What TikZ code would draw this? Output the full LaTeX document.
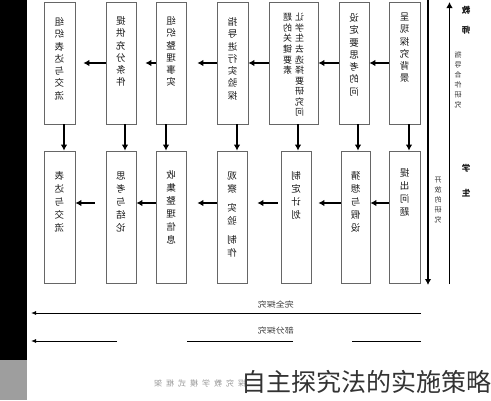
\documentclass[tikz,border=0pt]{standalone}
\usepackage{fontspec}
\newfontfamily\cjk{Noto Sans CJK SC}
\usetikzlibrary{arrows.meta}
\newcommand\vtxt[1]{\reflectbox{\begin{tabular}{@{}c@{}}#1\end{tabular}}}
\tikzset{
  box/.style={draw=black!60, line width=0.7pt, inner sep=0pt, fill=white},
  txt/.style={anchor=north, inner sep=0pt, text=black!90, font=\cjk\fontsize{9.5}{12.3}\selectfont},
  txtb/.style={anchor=north, inner sep=0pt, text=black!90, font=\cjk\fontsize{9.5}{13}\selectfont},
  arr/.style={line width=1.6pt, -{Latex[length=6pt,width=6.5pt]}},
  thinarr/.style={line width=0.9pt, -{Latex[length=5pt,width=4pt]}},
  side/.style={inner sep=0pt, text=black!90, font=\cjk\bfseries\fontsize{8.5}{11}\selectfont},
  small/.style={inner sep=0pt, text=black!80, font=\cjk\fontsize{7}{10}\selectfont},
  lab/.style={inner sep=0pt, text=black!80, font=\cjk\fontsize{9}{10}\selectfont, yscale=0.85},
}
\begin{document}
\begin{tikzpicture}[x=1pt,y=-1pt]
\useasboundingbox (0,0) rectangle (491,400);
\fill[white] (0,0) rectangle (491,400);
% left black bar and gray block
\fill[black] (0,0) rectangle (27,360);
\fill[black!38] (0,360) rectangle (27,400);

% top row boxes
\node[box, minimum width=31pt, minimum height=122pt] (t1) at (59.5,63) {};
\node[box, minimum width=30pt, minimum height=122pt] (t2) at (121,63) {};
\node[box, minimum width=30pt, minimum height=122pt] (t3) at (171,63) {};
\node[box, minimum width=31pt, minimum height=122pt] (t4) at (232.5,63) {};
\node[box, minimum width=49pt, minimum height=122pt] (t5) at (293.5,63) {};
\node[box, minimum width=30pt, minimum height=122pt] (t6) at (354,63) {};
\node[box, minimum width=31pt, minimum height=122pt] (t7) at (404.5,63) {};
% bottom row boxes
\node[box, minimum width=31pt, minimum height=132pt] (b1) at (59.5,217) {};
\node[box, minimum width=30pt, minimum height=132pt] (b2) at (121,217) {};
\node[box, minimum width=30pt, minimum height=132pt] (b3) at (171,217) {};
\node[box, minimum width=30pt, minimum height=132pt] (b4) at (232,217) {};
\node[box, minimum width=30pt, minimum height=132pt] (b5) at (296,217) {};
\node[box, minimum width=29pt, minimum height=132pt] (b6) at (355.5,217) {};
\node[box, minimum width=31pt, minimum height=132pt] (b7) at (404.5,217) {};

% texts top row (mirrored)
\node[txt] (tt1) at ([yshift=-15pt]t1.north) {\vtxt{组\\织\\表\\达\\与\\交\\流}};
\node[txt] (tt2) at ([yshift=-14pt]t2.north) {\vtxt{提\\供\\充\\分\\条\\件}};
\node[txt] (tt3) at ([yshift=-14pt]t3.north) {\vtxt{组\\织\\整\\理\\事\\实}};
\node[txt] (tt4) at ([yshift=-15pt]t4.north) {\vtxt{指\\导\\进\\行\\实\\验\\探}};
\node[txt, font=\cjk\fontsize{9}{10.4}\selectfont] (tt5) at ([yshift=-11pt]t5.north) {\reflectbox{\begin{tabular}{@{}c@{\hspace{3pt}}c@{}}让&题\\学&的\\生&关\\去&键\\选&要\\择&素\\要&\\研&\\究&\\问&\end{tabular}}};
\node[txt] (tt6) at ([yshift=-11pt]t6.north) {\vtxt{设\\定\\要\\思\\考\\的\\问}};
\node[txt] (tt7) at ([yshift=-10pt]t7.north) {\vtxt{呈\\现\\探\\究\\背\\景}};
% texts bottom row
\node[txtb] (bt1) at ([yshift=-20pt]b1.north) {\vtxt{表\\达\\与\\交\\流}};
\node[txtb] (bt2) at ([yshift=-20pt]b2.north) {\vtxt{思\\考\\与\\结\\论}};
\node[txtb] (bt3) at ([yshift=-19pt]b3.north) {\vtxt{收\\集\\整\\理\\信\\息}};
\node[txtb] (bt4) at ([yshift=-20pt]b4.north) {\vtxt{观\\察\\[6pt]实\\验\\[6pt]制\\作}};
\node[txtb] (bt5) at ([yshift=-20pt]b5.north) {\vtxt{制\\定\\计\\划}};
\node[txtb] (bt6) at ([yshift=-20pt]b6.north) {\vtxt{猜\\想\\与\\假\\设}};
\node[txtb] (bt7) at ([yshift=-17pt]b7.north) {\vtxt{提\\出\\问\\题}};

% horizontal arrows top row
\draw[arr] (t2.west) -- ([xshift=8pt]t1.east);
\draw[arr] (t3.west) -- ([xshift=9pt]t2.east);
\draw[arr] (t4.west) -- ([xshift=11pt]t3.east);
\draw[arr] (t5.west) -- (t4.east);
\draw[arr] (t6.west) -- (t5.east);
\draw[arr] (t7.west) -- (t6.east);
% horizontal arrows bottom row
\draw[arr] ([yshift=14pt,xshift=-11pt]b2.west) -- ([yshift=14pt]b1.east);
\draw[arr] ([yshift=14pt]b3.west) -- ([yshift=14pt]b2.east);
\draw[arr] ([yshift=14pt]b4.west) -- ([yshift=14pt,xshift=11pt]b3.east);
\draw[arr] ([yshift=14pt,xshift=-3pt]b5.west) -- ([yshift=14pt,xshift=10pt]b4.east);
\draw[arr] ([yshift=14pt]b6.west) -- ([yshift=14pt,xshift=7pt]b5.east);
\draw[arr] ([yshift=14pt]b7.west) -- ([yshift=14pt]b6.east);
% vertical arrows
\draw[arr] ([xshift=4.5pt]t1.south) -- ([xshift=4.5pt]t1.south |- b1.north);
\draw[arr] ([xshift=4pt]t2.south) -- ([xshift=4pt]t2.south |- b2.north);
\draw[arr] ([xshift=-5pt]t3.south) -- ([xshift=-5pt]t3.south |- b3.north);
\draw[arr] ([xshift=4.5pt]t4.south) -- ([xshift=4.5pt]t4.south |- b4.north);
\draw[arr] ([xshift=4.5pt]t5.south) -- ([xshift=4.5pt]t5.south |- b5.north);
\draw[arr] ([xshift=4pt]t6.south) -- ([xshift=4pt]t6.south |- b6.north);
\draw[arr] ([xshift=4.5pt]t7.south) -- ([xshift=4.5pt]t7.south |- b7.north);

% right side
\coordinate (d1) at (428,0);
\coordinate (d2) at (428,285);
\coordinate (u1) at (449.5,284);
\coordinate (u2) at (449.5,2);
\draw[arr] (d1) -- (d2);
\draw[arr] (u1) -- (u2);
\node[side] (jiao) at (466,10) {\reflectbox{教}};
\node[side] (shi) at (466,30) {\reflectbox{师}};
\node[small, anchor=north] (zd) at (458,50) {\vtxt{指\\导\\合\\作\\研\\究}};
\node[side] (xue) at (466,168) {\reflectbox{学}};
\node[side] (sheng) at (466,193) {\reflectbox{生}};
\node[small, anchor=north] (kf) at (438,175) {\vtxt{开\\放\\的\\研\\究}};

% bottom long arrows
\coordinate (a1) at (421,313);
\coordinate (a2) at (31,313);
\coordinate (c1) at (421,341);
\coordinate (c2) at (31,341);
\draw[thinarr] (a1) -- (a2);
\draw[thinarr, dash pattern=on 69pt off 59pt on 106pt off 70pt on 90pt] (c1) -- (c2);
\node[lab] (wq) at (276,305) {\reflectbox{完全探究}};
\node[lab] (bf) at (276,331) {\reflectbox{部分探究}};

% caption and overlay
\node[inner sep=0pt, anchor=west, text=black!40, font=\cjk\fontsize{8}{10}\selectfont] (cap) at (154,383) {\reflectbox{探\hspace{4pt}究\hspace{4pt}教\hspace{4pt}学\hspace{4pt}模\hspace{4pt}式\hspace{4pt}框\hspace{4pt}架}};
\node[inner sep=0pt, anchor=east, text=black!80, font=\cjk\fontsize{25}{28}\selectfont] (wm) at (492,382) {自主探究法的实施策略};
\end{tikzpicture}
\end{document}
